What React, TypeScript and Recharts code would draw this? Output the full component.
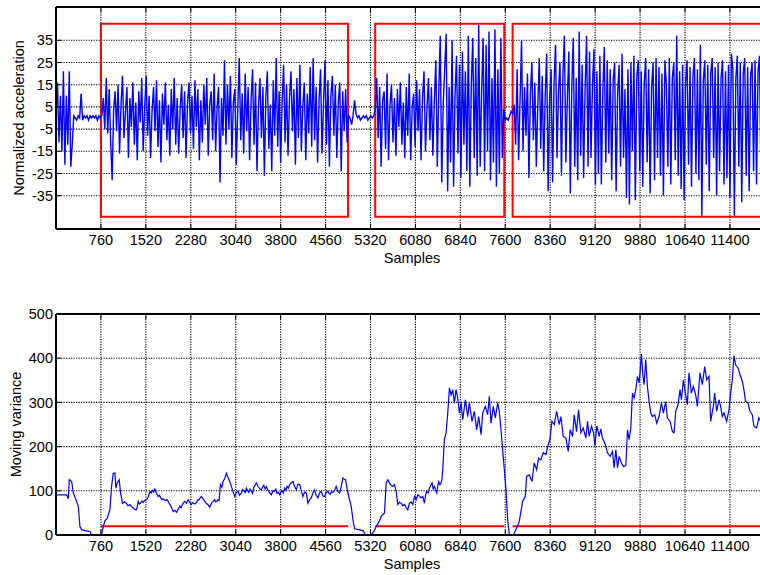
import React from 'react';
import {
  LineChart,
  Line,
  XAxis,
  YAxis,
  CartesianGrid,
  ReferenceArea,
  ReferenceLine,
} from 'recharts';

// ---- acceleration trace, one value every SAMPLE_STEP samples ----
const SAMPLE_STEP = 25;

const accelLeadIn = [2, 16, -11, 10, -15, 21, -21, 10, -12, 21, -22, -12];

const accelRest1 = [1, 0, -1, 1, 0, 11, -1, 1, 0, 1, -1, 1, 0, 1, 0, 1, -1, 1, 0];

const accelWindow1 = [
  1, 9, -5, 18, -7, 13, -11, -28, 4, 12, -6, 15, -16, 6, 19, -9, 3, 14, -18, 9,
  -4, 16, -12, 7, -19, 12, -2, 18, -15, 5, 19, -8, 10, -18, 3, 14, -6, 17, -13, 8,
  -20, 11, -3, 16, -10, 6, -17, 13, -5, 18, -12, 9, -16, 4, 15, -9, 12, -18, 7, 16,
  -7, 10, -14, 17, -4, 13, -19, 8, -11, 15, -3, 18, -17, 6, 12, -10, 20, -15, 5, 14,
  -29, 9, -8, 26, -12, 15, -5, 19, -18, 7, 13, -21, 4, 27, -10, 11, -16, 20, -6, 14,
  -19, 8, 22, -12, 16, -24, 5, 18, -9, 14, -26, 10, 21, -14, 6, -24, 17, -8, 27, -13,
  12, -20, 7, 24, -11, 15, -17, 9, 21, -6, 13, -21, 18, -9, 24, -15, 5, 16, -19, 11,
  -7, 23, -13, 27, -10, 14, -20, 8, 22, -16, 6, 26, -12, 17, -22, 10, 19, -8, 15, -18,
  7, 16, -24, 12, -6, 13, -11,
];

const accelRest2 = [1, 0, -3, 1, 8, 2, 0, 1, -1, 0, 1, 0, 1, -1, 0, 1, 0, 1];

const accelWindow2 = [
  4, 18, -9, 14, -22, 8, 12, -14, 20, -19, 6, 15, -11, 9, -17, 13, -4, 16, -12, 7,
  -18, 14, -8, 20, -19, 5, 11, -13, 17, -6, 13, -19, 9, 21, -15, 4, 18, -10, 14, -17,
  8, 26, -22, 12, 37, -29, 6, 22, 38, -33, 14, -20, 35, -31, 10, 28, -16, 24, -27, 30,
  -12, 21, -24, 37, -31, 15, 36, -18, 27, -26, 42, -22, 12, 36, -24, 33, -15, 39, -28, 18,
  -20, 40, -31, 22, -25, 36, -18, 4,
];

const accelRest3 = [-1, 0, -1, 1, 3];

const accelWindow3 = [
  2, 6, -12, 22, -19, 8, 35, -15, 14, -8, 20, -27, 11, 25, -10, 16, -22, 6, 27, -14,
  19, -24, 10, 29, -33, 8, 22, -29, 16, 33, -18, 12, 25, -26, 20, 37, -20, 9, 30, -34,
  14, 36, -22, 18, -28, 39, -17, 24, -27, 13, 37, -22, 30, -18, 15, 31, -30, 21, -25, 28,
  -30, 12, 32, -20, 26, -16, 22, -28, 17, 25, -33, 11, 24, -22, 29, -18, 13, -36, 22, -39,
  25, -15, 28, -37, 19, 26, -24, 21, -31, 16, 27, -20, 22, -34, 14, 25, -28, 27, -18, 23,
  -26, 20, -35, 26, 15, -22, 27, -30, 18, 25, -19, 37, -26, 21, -32, 24, -37, 16, 26, -21,
  23, -31, 19, 27, -25, 22, -28, 33, -44, 17, 26, -21, 24, -33, 20, 27, -18, 23, -35, 25,
  -24, 18, 26, -30, 21, -27, 24, -36, 29, 22, -44, 18, 28, -22, 25, -38, 20, 27, -26, 23,
  -33, 19, 25, -24, 26, -30, 21, 28, -27, 22, -35, 24, -20, 26, -31, 23, -25, 20, -28, 24,
];

// ---- moving variance (sample index, value) ----
const varianceSamples = [
  0, 180, 208, 225, 265, 293, 338, 377, 405, 434, 490, 574, 602, 743, 770, 799, 828, 867, 912, 940,
  968, 997, 1013, 1036, 1070, 1092, 1126, 1160, 1194, 1220, 1250, 1280, 1306, 1335, 1362, 1391, 1410, 1430, 1455, 1475,
  1500, 1531, 1560, 1588, 1610, 1630, 1652, 1672, 1700, 1728, 1750, 1770, 1790, 1813, 1835, 1855, 1875, 1897, 1920, 1940,
  1960, 1982, 2010, 2038, 2065, 2094, 2118, 2140, 2160, 2179, 2205, 2235, 2262, 2291, 2310, 2330, 2352, 2376, 2398, 2420,
  2440, 2460, 2490, 2517, 2540, 2560, 2580, 2601, 2620, 2640, 2662, 2685, 2700, 2720, 2740, 2759, 2781, 2805, 2826, 2855,
  2882, 2905, 2927, 2947, 2967, 2995, 3023, 3050, 3080, 3105, 3136, 3160, 3180, 3200, 3220, 3240, 3260, 3283, 3305, 3325,
  3345, 3367, 3389, 3410, 3430, 3452, 3474, 3495, 3515, 3537, 3558, 3580, 3600, 3622, 3643, 3670, 3699, 3720, 3740, 3762,
  3783, 3805, 3825, 3847, 3868, 3890, 3910, 3930, 3952, 3980, 4008, 4035, 4065, 4090, 4121, 4150, 4177, 4205, 4234, 4262,
  4290, 4318, 4345, 4374, 4400, 4431, 4460, 4487, 4515, 4543, 4570, 4600, 4620, 4640, 4662, 4684, 4710, 4740, 4770, 4797,
  4825, 4853, 4880, 4898, 4938, 4994, 5022, 5050, 5120, 5191, 5236, 5332, 5380, 5416, 5472, 5500, 5557, 5585, 5613, 5641,
  5670, 5697, 5726, 5754, 5782, 5810, 5838, 5866, 5895, 5923, 5951, 5979, 6007, 6035, 6064, 6092, 6120, 6148, 6176, 6204,
  6232, 6252, 6272, 6295, 6317, 6340, 6362, 6380, 6401, 6420, 6441, 6458, 6474, 6494, 6514, 6528, 6542, 6570, 6598, 6627,
  6655, 6683, 6711, 6739, 6767, 6795, 6823, 6852, 6880, 6925, 6964, 6992, 7037, 7077, 7116, 7150, 7190, 7218, 7263, 7302,
  7330, 7358, 7398, 7432, 7471, 7499, 7527, 7555, 7584, 7612, 7640, 7668, 7735, 7780, 7837, 7893, 7938, 7961, 8006, 8051,
  8090, 8130, 8164, 8203, 8242, 8287, 8316, 8355, 8389, 8428, 8468, 8512, 8541, 8580, 8625, 8665, 8698, 8738, 8766, 8805,
  8839, 8879, 8918, 8963, 8991, 9019, 9059, 9093, 9115, 9149, 9188, 9216, 9244, 9284, 9329, 9374, 9413, 9441, 9470, 9498,
  9526, 9565, 9599, 9639, 9667, 9695, 9723, 9751, 9779, 9807, 9836, 9864, 9881, 9903, 9926, 9948, 9976, 10004, 10033, 10061,
  10089, 10128, 10162, 10201, 10241, 10274, 10314, 10342, 10387, 10427, 10455, 10483, 10522, 10556, 10579, 10613, 10646, 10680, 10708, 10748,
  10781, 10821, 10849, 10894, 10933, 10973, 11006, 11046, 11074, 11119, 11142, 11176, 11215, 11243, 11271, 11299, 11344, 11384, 11412, 11440,
  11468, 11496, 11536, 11570, 11609, 11637, 11665, 11705, 11739, 11778, 11806, 11851, 11890, 11950, 12044,
];

const varianceValues = [
  91, 91, 82, 125, 121, 95, 80, 65, 19, 12, 10, 8, 1, 0, 1, 19, 32, 38, 57, 110,
  139, 140, 106, 118, 125, 95, 72, 75, 71, 66, 69, 64, 61, 58, 57, 76, 70, 72, 77, 74,
  78, 80, 86, 99, 95, 101, 97, 104, 94, 87, 90, 85, 80, 82, 79, 78, 80, 76, 70, 66,
  60, 53, 56, 51, 58, 65, 62, 70, 74, 76, 72, 80, 74, 69, 73, 72, 70, 74, 79, 80,
  84, 87, 82, 76, 71, 70, 67, 63, 69, 74, 76, 80, 75, 76, 80, 78, 114, 108, 121, 128,
  140, 132, 125, 118, 110, 98, 87, 96, 99, 90, 95, 103, 100, 96, 106, 100, 96, 104, 99, 94,
  108, 112, 118, 112, 108, 104, 102, 109, 112, 104, 110, 103, 98, 94, 91, 100, 99, 104, 94, 96,
  91, 97, 100, 95, 106, 101, 110, 106, 114, 118, 121, 110, 102, 115, 114, 100, 87, 97, 95, 72,
  80, 84, 95, 102, 90, 84, 96, 99, 88, 87, 96, 99, 93, 92, 98, 96, 100, 110, 98, 95,
  110, 129, 126, 125, 95, 65, 35, 14, 12, 10, 0, 0, 8, 19, 32, 42, 50, 118, 125, 118,
  112, 110, 114, 99, 69, 74, 72, 66, 69, 62, 57, 72, 75, 69, 87, 80, 91, 88, 84, 87,
  72, 90, 99, 95, 106, 112, 118, 104, 110, 102, 95, 112, 121, 114, 118, 126, 148, 216, 231, 276,
  333, 317, 329, 299, 329, 310, 276, 299, 261, 306, 268, 299, 257, 280, 238, 268, 227, 276, 291, 272,
  314, 253, 291, 265, 299, 280, 238, 193, 148, 102, 35, 1, 0, 12, 31, 76, 87, 133, 136, 121,
  163, 148, 174, 170, 186, 182, 200, 216, 257, 250, 280, 250, 268, 223, 219, 189, 238, 223, 272, 234,
  283, 231, 242, 219, 257, 223, 246, 231, 202, 247, 223, 240, 219, 208, 186, 178, 189, 152, 193, 152,
  178, 163, 155, 157, 238, 216, 242, 321, 310, 329, 359, 344, 370, 410, 363, 340, 397, 336, 302, 276,
  268, 272, 253, 268, 299, 276, 302, 265, 257, 234, 231, 280, 295, 329, 306, 351, 321, 295, 367, 321,
  336, 317, 291, 367, 340, 381, 351, 359, 257, 291, 321, 280, 306, 291, 268, 276, 257, 283, 321, 351,
  406, 385, 378, 363, 348, 329, 302, 299, 280, 272, 246, 242, 265, 250, 255,
];

// ---- axes, windows and threshold ----
const sampleDomain: [number, number] = [0, 12044];
const sampleTicks = [760, 1520, 2280, 3040, 3800, 4560, 5320, 6080, 6840, 7600, 8360, 9120, 9880, 10640, 11400];
const accelDomain: [number, number] = [-50, 50];
const accelTicks = [-35, -25, -15, -5, 5, 15, 25, 35];
const varianceDomain: [number, number] = [0, 500];
const varianceTicks = [0, 100, 200, 300, 400, 500];

const activeWindows: [number, number][] = [
  [760, 4940],
  [5400, 7583],
  [7724, 12044],
];
const windowTop = 42.5;
const windowBottom = -44.5;
const varianceThreshold = 20;

const accelSeries = [
  ...accelLeadIn,
  ...accelRest1,
  ...accelWindow1,
  ...accelRest2,
  ...accelWindow2,
  ...accelRest3,
  ...accelWindow3,
].map((value, i) => ({ sample: i * SAMPLE_STEP, value }));

const varianceSeries = varianceSamples.map((sample, i) => ({ sample, value: varianceValues[i] }));

const FONT = '"Liberation Sans", Arial, Helvetica, sans-serif';
const FONT_SIZE = 14.5;
const BLUE = '#0000ff';
const RED = '#ff0000';
const tickStyle = { fill: '#000', fontSize: FONT_SIZE, fontFamily: FONT };
const axisLineStyle = { stroke: '#000', strokeWidth: 2 };
const tickLineStyle = { stroke: '#000', strokeWidth: 1 };

const CHART_WIDTH = 768;

function Panel(props: {
  height: number;
  marginTop: number;
  xAxisHeight: number;
  xLabelOffset: number;
  yDomain: [number, number];
  yTicks: number[];
  yLabel: string;
  yLabelDx: number;
  lineWidth: number;
  data: { sample: number; value: number }[];
  children?: React.ReactNode;
}) {
  const { height, marginTop, xAxisHeight, xLabelOffset, yDomain, yTicks, yLabel, yLabelDx, lineWidth, data, children } =
    props;
  return (
    <LineChart
      width={CHART_WIDTH}
      height={height}
      data={data}
      margin={{ top: marginTop, right: 0, bottom: 0, left: 0 }}
    >
      <CartesianGrid stroke="#000" strokeDasharray="1.2 1.3" strokeWidth={1.1} />
      <XAxis
        dataKey="sample"
        type="number"
        domain={sampleDomain}
        ticks={sampleTicks}
        interval={0}
        allowDataOverflow
        height={xAxisHeight}
        tickSize={-5}
        tickMargin={11}
        tick={tickStyle}
        axisLine={axisLineStyle}
        tickLine={tickLineStyle}
        label={{
          value: 'Samples',
          position: 'insideBottom',
          offset: xLabelOffset,
          fill: '#000',
          fontSize: FONT_SIZE,
          fontFamily: FONT,
        }}
      />
      <XAxis
        xAxisId="top"
        orientation="top"
        dataKey="sample"
        type="number"
        domain={sampleDomain}
        ticks={sampleTicks}
        interval={0}
        allowDataOverflow
        height={1}
        tickSize={-5}
        tickFormatter={() => ''}
        axisLine={axisLineStyle}
        tickLine={tickLineStyle}
      />
      <YAxis
        type="number"
        domain={yDomain}
        ticks={yTicks}
        interval={0}
        allowDataOverflow
        width={56}
        tickSize={-5}
        tickMargin={8}
        tick={tickStyle}
        axisLine={axisLineStyle}
        tickLine={tickLineStyle}
        label={{
          value: yLabel,
          angle: -90,
          position: 'center',
          dx: yLabelDx,
          fill: '#000',
          fontSize: FONT_SIZE,
          fontFamily: FONT,
        }}
      />
      {children}
      <Line
        dataKey="value"
        type="linear"
        stroke={BLUE}
        strokeWidth={lineWidth}
        dot={false}
        activeDot={false}
        isAnimationActive={false}
      />
    </LineChart>
  );
}

export default function App() {
  return (
    <div
      style={{
        position: 'absolute',
        left: 0,
        top: 0,
        width: 760,
        height: 575,
        overflow: 'hidden',
        background: '#fff',
      }}
    >
      <div style={{ position: 'absolute', left: 0, top: 0 }}>
        <Panel
          height={270}
          marginTop={6}
          xAxisHeight={41}
          xLabelOffset={7}
          yDomain={accelDomain}
          yTicks={accelTicks}
          yLabel="Normalized acceleration"
          yLabelDx={-8.7}
          lineWidth={1.4}
          data={accelSeries}
        >
          {activeWindows.map(([x1, x2]) => (
            <ReferenceArea
              key={`win-${x1}`}
              x1={x1}
              x2={x2}
              y1={windowBottom}
              y2={windowTop}
              fill="none"
              fillOpacity={0}
              stroke={RED}
              strokeWidth={2}
              strokeOpacity={1}
            />
          ))}
        </Panel>
      </div>
      <div style={{ position: 'absolute', left: 0, top: 270 }}>
        <Panel
          height={305}
          marginTop={43}
          xAxisHeight={40}
          xLabelOffset={6}
          yDomain={varianceDomain}
          yTicks={varianceTicks}
          yLabel="Moving variance"
          yLabelDx={-12.3}
          lineWidth={1.2}
          data={varianceSeries}
        >
          {activeWindows.map(([x1, x2]) => (
            <ReferenceLine
              key={`thr-${x1}`}
              segment={[
                { x: x1, y: varianceThreshold },
                { x: x2, y: varianceThreshold },
              ]}
              stroke={RED}
              strokeWidth={2}
            />
          ))}
        </Panel>
      </div>
    </div>
  );
}
